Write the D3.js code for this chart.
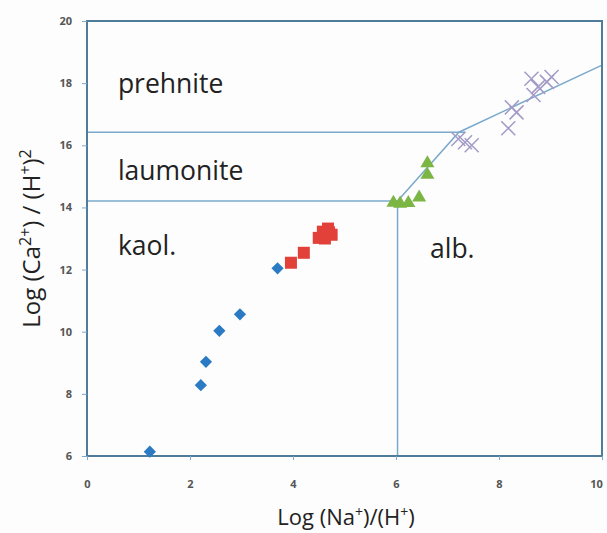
<!DOCTYPE html>
<html>
<head>
<meta charset="utf-8">
<script src="https://cdn.jsdelivr.net/npm/d3@7"></script>
<style>
  html, body { margin: 0; padding: 0; background: #fdfdfd; }
  svg { display: block; }
</style>
</head>
<body>
<svg id="chart" width="607" height="533"></svg>
<script>
// ---- data ----
const xTicks = [0, 2, 4, 6, 8, 10];
const yTicks = [6, 8, 10, 12, 14, 16, 18, 20];

const kaolinite = [ // blue diamonds
  [1.22, 6.14], [2.21, 8.28], [2.31, 9.03], [2.57, 10.03], [2.97, 10.56], [3.70, 12.04]
];
const laumontiteSamples = [ // red squares
  [3.96, 12.22], [4.21, 12.54], [4.50, 13.02], [4.58, 13.22], [4.68, 13.32],
  [4.75, 13.12], [4.62, 13.00], [4.70, 13.20]
];
const albiteSamples = [ // green triangles
  [5.95, 14.15], [6.08, 14.12], [6.24, 14.14], [6.45, 14.32], [6.61, 15.05], [6.61, 15.42]
];
const prehniteSamples = [ // crosses
  [7.21, 16.20], [7.34, 16.10], [7.47, 16.00], [8.18, 16.55], [8.25, 17.22],
  [8.34, 17.06], [8.63, 18.14], [8.67, 17.62], [8.76, 17.88], [8.93, 18.04], [9.02, 18.20]
];

// phase boundary lines
const prehLaumLine = [[0, 16.42], [7.35, 16.42]];
const laumKaolLine = [[0, 14.21], [6.03, 14.21]];
const kaolAlbLine = [[6.03, 6], [6.03, 14.21]];
const boundaryCurve = [[6.03, 14.21], [7.22, 16.42], [10, 18.58]];

const fieldLabels = [
  {text: "prehnite", x: 0.6, y: 17.68},
  {text: "laumonite", x: 0.6, y: 14.88},
  {text: "kaol.", x: 0.6, y: 12.47},
  {text: "alb.", x: 6.66, y: 12.37}
];

// ---- layout ----
const svg = d3.select("#chart");
const L = 87, R = 602, T = 21, B = 456;
const x = d3.scaleLinear().domain([0, 10]).range([L, R]);
const y = d3.scaleLinear().domain([6, 20]).range([B, T]);

const lineCol = "#7aa9cc";
const axisCol = "#4e7c99";
const font = "'Open Sans', Lato, sans-serif";

// boundary lines
const line = d3.line().x(d => x(d[0])).y(d => y(d[1]));
[prehLaumLine, laumKaolLine, kaolAlbLine, boundaryCurve].forEach(d => {
  svg.append("path").attr("d", line(d)).attr("fill", "none")
    .attr("stroke", lineCol).attr("stroke-width", 1.5);
});

// plot frame
svg.append("rect").attr("x", L).attr("y", T).attr("width", R - L).attr("height", B - T)
  .attr("fill", "none").attr("stroke", axisCol).attr("stroke-width", 2);

// axes
const xAxis = d3.axisBottom(x).tickValues(xTicks).tickSize(4).tickPadding(20);
const yAxis = d3.axisLeft(y).tickValues(yTicks).tickSize(5).tickPadding(10);
const gx = svg.append("g").attr("transform", `translate(0,${B})`).call(xAxis);
const gy = svg.append("g").attr("transform", `translate(${L},0)`).call(yAxis);
[gx, gy].forEach(g => {
  g.select(".domain").remove();
  g.selectAll(".tick line").attr("stroke", lineCol).attr("stroke-width", 1);
  g.selectAll(".tick text").attr("fill", "#555").attr("font-family", font)
    .attr("font-size", 11).attr("font-weight", "bold");
});
gx.selectAll(".tick text").filter(d => d === 10).attr("dx", -6);

// field labels
svg.selectAll("text.field").data(fieldLabels).enter().append("text")
  .attr("class", "field")
  .attr("x", d => x(d.x)).attr("y", d => y(d.y))
  .attr("font-family", font).attr("font-size", 26.5)
  .attr("fill", "#222").text(d => d.text);

// markers
const diamond = d3.symbol().type(d3.symbolDiamond2).size(95);
svg.selectAll("path.kaol").data(kaolinite).enter().append("path")
  .attr("d", diamond).attr("transform", d => `translate(${x(d[0])},${y(d[1])})`)
  .attr("fill", "#2a7bc3");

svg.selectAll("rect.laum").data(laumontiteSamples).enter().append("rect")
  .attr("x", d => x(d[0]) - 6).attr("y", d => y(d[1]) - 6)
  .attr("width", 12).attr("height", 12).attr("fill", "#e2413a");

const tri = d3.symbol().type(d3.symbolTriangle).size(85);
svg.selectAll("path.alb").data(albiteSamples).enter().append("path")
  .attr("d", tri).attr("transform", d => `translate(${x(d[0])},${y(d[1])})`)
  .attr("fill", "#7bb544");

const cs = 7;
const crossG = svg.selectAll("g.preh").data(prehniteSamples).enter().append("g")
  .attr("transform", d => `translate(${x(d[0])},${y(d[1])})`);
crossG.append("path").attr("d", `M${-cs},${-cs}L${cs},${cs}M${-cs},${cs}L${cs},${-cs}`)
  .attr("stroke", "#a39bc6").attr("stroke-width", 1.5).attr("fill", "none");

// axis titles
const xt = svg.append("text").attr("x", 346).attr("y", 525)
  .attr("text-anchor", "middle").attr("font-family", font).attr("font-size", 22).attr("fill", "#222");
xt.append("tspan").text("Log (Na");
xt.append("tspan").text("+").attr("font-size", 14).attr("dy", -8);
xt.append("tspan").text(")/(H").attr("dy", 8);
xt.append("tspan").text("+").attr("font-size", 14).attr("dy", -8);
xt.append("tspan").text(")").attr("dy", 8);

const yt = svg.append("text").attr("transform", `translate(40,${(T + B) / 2}) rotate(-90)`)
  .attr("text-anchor", "middle").attr("font-family", font).attr("font-size", 24).attr("fill", "#222");
yt.append("tspan").text("Log (Ca");
yt.append("tspan").text("2+").attr("font-size", 16).attr("dy", -9);
yt.append("tspan").text(") / (H").attr("dy", 9);
yt.append("tspan").text("+").attr("font-size", 16).attr("dy", -9);
yt.append("tspan").text(")").attr("dy", 9);
yt.append("tspan").text("2").attr("font-size", 16).attr("dy", -9);
</script>
</body>
</html>
